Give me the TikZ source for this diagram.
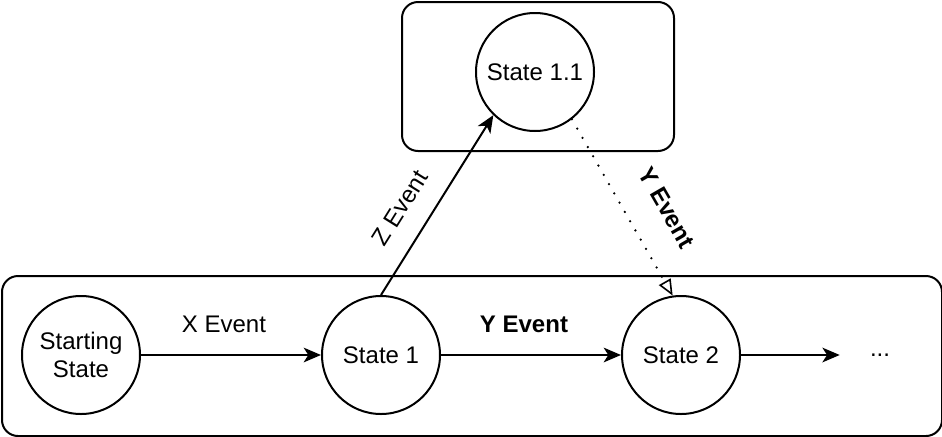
\documentclass[tikz,border=0pt]{standalone}
\usepackage{fontspec}
\setmainfont{Liberation Sans}
\usetikzlibrary{arrows.meta}
\begin{document}
\begin{tikzpicture}[x=0.75pt,y=-0.75pt,
  every node/.style={font=\fontsize{18}{21.5}\selectfont},
  group/.style={draw,line width=1.5pt,rounded corners=12pt},
  statenode/.style={draw,circle,line width=1.5pt,minimum size=88.5pt,inner sep=0pt,align=center},
  conn/.style={line width=1.5pt,-{Stealth[length=13pt,width=11pt,inset=3.5pt]}},
  lbl/.style={inner sep=1pt}]
\useasboundingbox (0,0) rectangle (942,436);
\node[group,minimum width=204pt,minimum height=111.75pt,anchor=north west,inner sep=0pt] (top) at (401,1) {};
\node[group,minimum width=705pt,minimum height=120pt,anchor=north west,inner sep=0pt] (bot) at (1,275) {};
\node[statenode] (s0) at (81,355) {Starting\\State};
\node[statenode] (s1) at (381,355) {State 1};
\node[statenode] (s2) at (681,355) {State 2};
\node[statenode] (s11) at (535,72) {State 1.1};
\node[minimum width=60pt,inner sep=0pt] (dots) at (880,355) {...};
\draw[conn] (s0) -- (s1);
\node[lbl] (xl) at (224,324) {X Event};
\draw[conn] (s1) -- (s2);
\node[lbl] (yl1) at (524,324) {\bfseries Y Event};
\draw[conn] (s2) -- (dots.west);
\draw[conn] (s1.north) -- (s11.226);
\node[rotate=58] (zl) at (400,208) {Z Event};
\draw[line width=1.9pt,line cap=round,dash pattern=on 0pt off 8pt,-{Triangle[open,length=12pt,width=10pt,line width=1.2pt]}] (s11.-52) -- (s2.98);
\node[rotate=-60] (yl) at (667,208) {\bfseries Y Event};
\end{tikzpicture}
\end{document}
